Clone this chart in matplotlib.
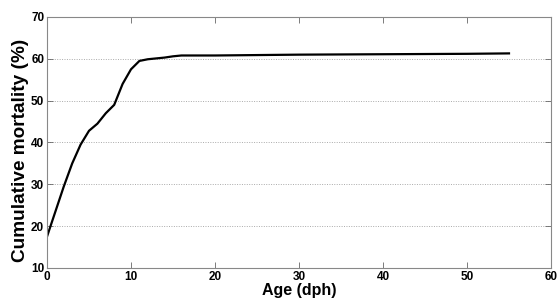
import matplotlib
matplotlib.use("Agg")
import matplotlib.pyplot as plt

age = [0, 1, 2, 3, 4, 5, 6, 7, 8, 9, 10, 11, 12, 13, 14, 15, 16, 20, 25, 30, 35, 40, 45, 50, 55]
mortality = [17.5, 23.5, 29.5, 35.0, 39.5, 42.8, 44.5, 47.0, 49.0, 54.0, 57.5, 59.5, 59.9,
             60.1, 60.3, 60.6, 60.8, 60.8, 60.9, 61.0, 61.05, 61.1, 61.15, 61.2, 61.3]
xticks = [0, 10, 20, 30, 40, 50, 60]
yticks = [10, 20, 30, 40, 50, 60, 70]

plt.rcParams['font.family'] = ['Liberation Sans', 'DejaVu Sans']
fig = plt.figure(figsize=(5.57, 3.02), dpi=100)
ax = fig.add_axes([47/557, 1 - 268/302, (551-47)/557, (268-17)/302])
ax.plot(age, mortality, color='black', lw=1.6)
ax.set_xlim(0, 60)
ax.set_ylim(10, 70)
ax.set_xticks(xticks)
ax.set_yticks(yticks)
ax.set_xticklabels([str(v) for v in xticks], fontweight='bold', fontsize=8.5)
ax.set_yticklabels([str(v) for v in yticks], fontweight='bold', fontsize=8.5)
ax.tick_params(direction='in', length=4, width=0.6, color='#666666', top=True, right=True, pad=2)
for s in ax.spines.values():
    s.set_color('#888888')
    s.set_linewidth(0.8)
for v in yticks[1:-1]:
    ax.axhline(v, color='#aaaaaa', lw=0.7, ls=(0, (1, 1.5)), zorder=0)
ax.set_xlabel('Age (dph)', fontweight='bold', fontsize=11.5, labelpad=0)
ax.set_ylabel('Cumulative mortality (%)', fontweight='bold', fontsize=13.7)
ax.yaxis.set_label_coords(-0.036, 0.468)
fig.savefig('out.png', dpi=100)
